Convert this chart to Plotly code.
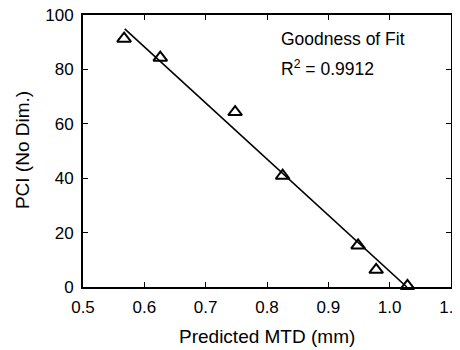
import plotly.graph_objects as go

mtd = [0.567, 0.626, 0.748, 0.8255, 0.9485, 0.978, 1.029]
pci = [91.3, 84.3, 64.3, 40.9, 15.3, 6.3, 0.4]
fit_x = [0.568, 1.028]
fit_y = [94.9, 0.0]
xticks = [0.5, 0.6, 0.7, 0.8, 0.9, 1.0, 1.1]
xticktext = ["0.5", "0.6", "0.7", "0.8", "0.9", "1.0", "1.1"]
yticks = [0, 20, 40, 60, 80, 100]

font = "Liberation Sans, Arial, Helvetica, sans-serif"

fig = go.Figure()
fig.add_trace(go.Scatter(x=fit_x, y=fit_y, mode="lines",
                         line=dict(color="black", width=1.6), showlegend=False))
fig.add_trace(go.Scatter(x=mtd, y=pci, mode="markers",
                         marker=dict(symbol="triangle-up-open", size=12, color="black",
                                     line=dict(color="black", width=2)),
                         showlegend=False, cliponaxis=False))

axis_common = dict(showgrid=False, zeroline=False, showline=True, linecolor="black",
                   linewidth=2, mirror="ticks", ticks="inside", ticklen=5,
                   tickwidth=1.2, tickcolor="black", automargin=False,
                   ticklabeloverflow="allow",
                   tickfont=dict(family=font, size=17, color="black"))

fig.update_xaxes(range=[0.5, 1.1], tickvals=xticks, ticktext=xticktext,
                 ticklabelstandoff=4, **axis_common)
fig.update_yaxes(range=[0, 100], tickvals=yticks,
                 ticklabelstandoff=4, **axis_common)

fig.add_annotation(x=0.5, y=-0.182, xref="paper", yref="paper", text="Predicted MTD (mm)",
                   showarrow=False, xanchor="center", yanchor="middle",
                   font=dict(family=font, size=19, color="black"))
fig.add_annotation(x=-0.166, y=0.503, xref="paper", yref="paper", text="PCI (No Dim.)",
                   showarrow=False, xanchor="center", yanchor="middle", textangle=-90,
                   font=dict(family=font, size=19, color="black"))

fig.add_annotation(x=0.8195, y=91.2, xref="x", yref="y", text="Goodness of Fit",
                   showarrow=False, xanchor="left", yanchor="middle",
                   font=dict(family=font, size=17.5, color="black"))
fig.add_annotation(x=0.8195, y=80.4, xref="x", yref="y", text="R<sup>2</sup> = 0.9912",
                   showarrow=False, xanchor="left", yanchor="middle",
                   font=dict(family=font, size=17.5, color="black"))

# page body has an 8px default margin, so the figure is sized to fit the 460x350 window
fig.update_layout(width=452, height=342, margin=dict(l=74.5, r=8.5, t=7, b=62.5),
                  plot_bgcolor="white", paper_bgcolor="white",
                  font=dict(family=font, color="black"))

fig.write_html("out.html")
